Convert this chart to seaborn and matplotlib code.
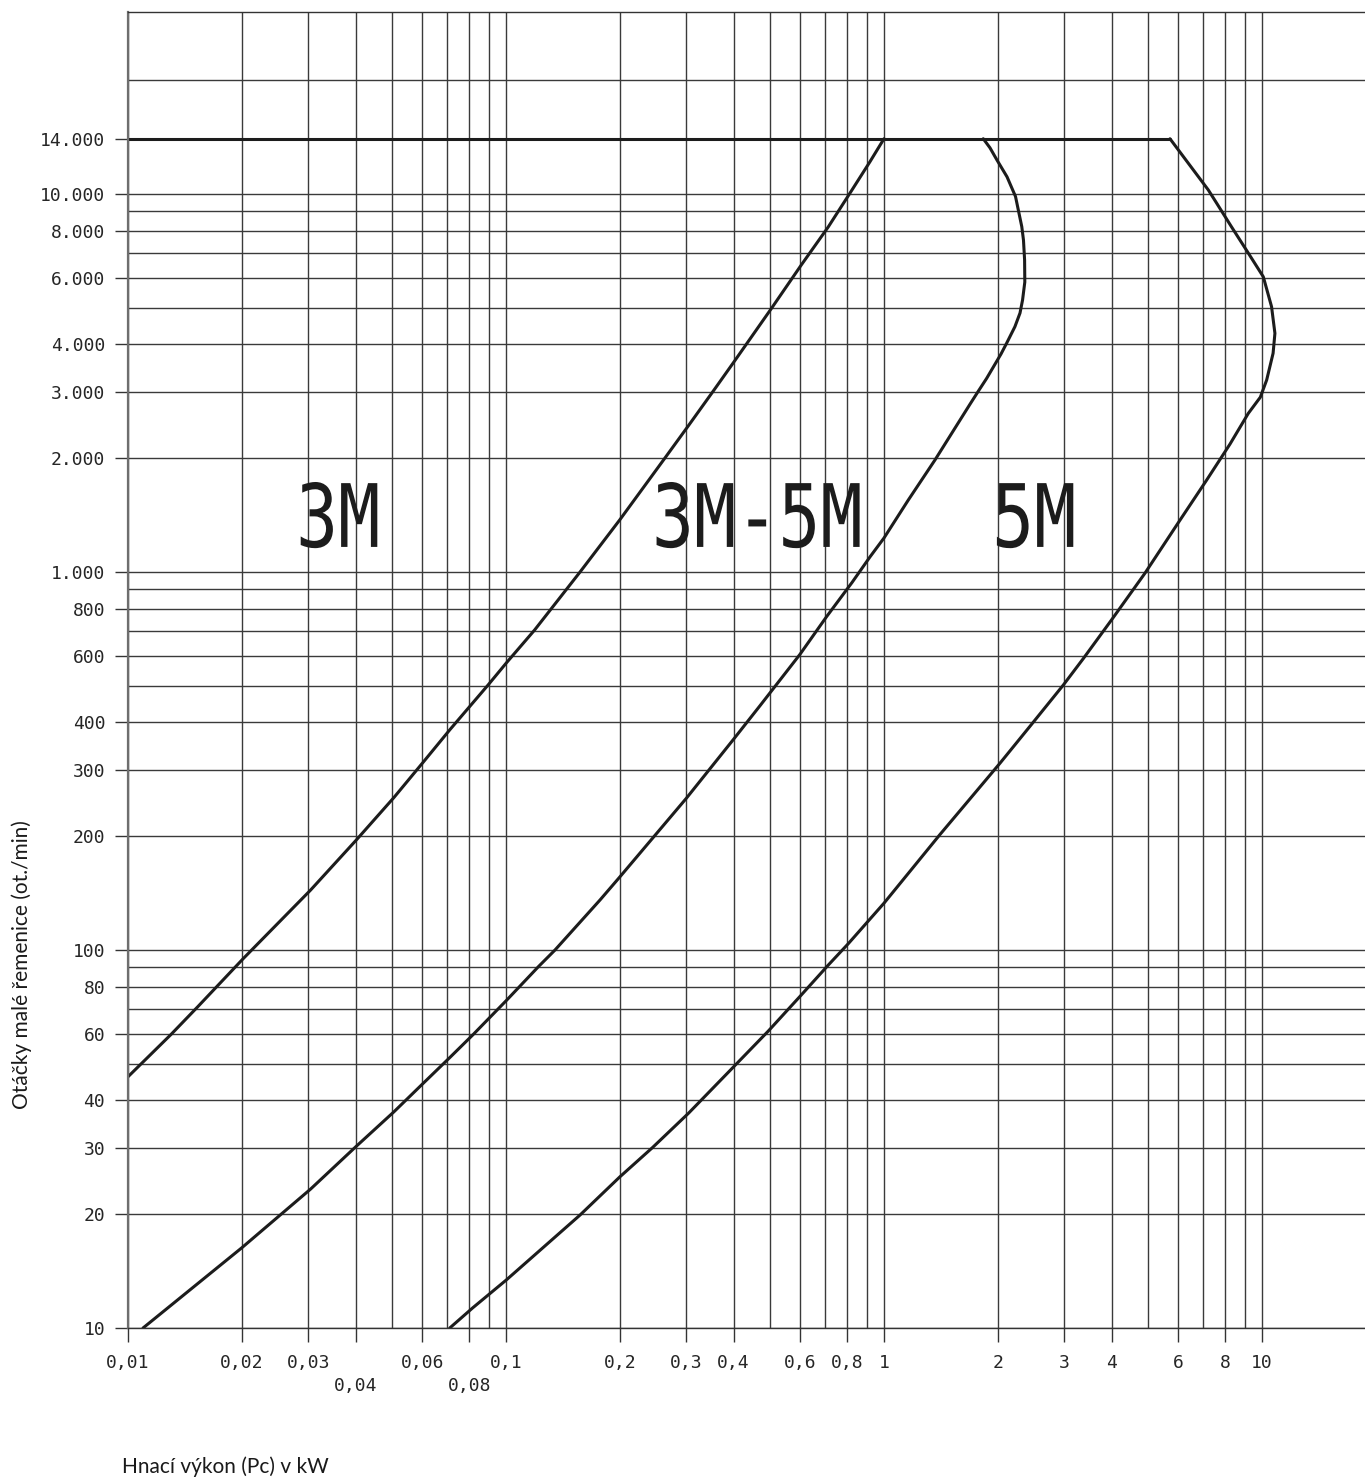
import matplotlib
matplotlib.use("Agg")
import matplotlib.pyplot as plt
from matplotlib.patheffects import AbstractPathEffect
from matplotlib.transforms import Affine2D
from matplotlib.ticker import FixedLocator, FixedFormatter, NullFormatter
import seaborn as sns

# belt curves, power in kW vs. speed of small pulley in rpm (read bottom -> top)
x_3m = [0.01, 0.0130, 0.0153, 0.0202, 0.0304, 0.0401, 0.0505, 0.0604, 0.0711, 0.0896, 0.1004,
        0.119, 0.157, 0.200, 0.261, 0.304, 0.354, 0.401, 0.504, 0.604, 0.712, 0.823, 0.918, 1.0]
y_3m = [46.2, 59.8, 70.8, 95, 144, 195, 253, 314, 383, 502, 576,
        702, 1000, 1374, 1978, 2440, 3017, 3597, 4984, 6486, 8180, 10250, 12170, 14000]

x_3m5m = [0.01096, 0.0200, 0.0304, 0.0401, 0.0505, 0.0604, 0.0711, 0.0818, 0.1002, 0.1219, 0.1348,
          0.1773, 0.200, 0.300, 0.400, 0.470, 0.599, 0.705, 0.823, 0.918, 1.0, 1.159, 1.364,
          1.689, 1.777, 1.868, 2.04, 2.111, 2.22, 2.29, 2.326, 2.358, 2.355, 2.339, 2.315,
          2.228, 2.116, 1.99, 1.907, 1.831]
y_3m5m = [10, 16.3, 23.3, 30.2, 37.3, 44.4, 52, 59.7, 73.5, 90.4, 100,
          135.6, 156, 252, 361, 443, 605, 762, 938, 1096, 1230, 1549, 1978,
          2780, 3010, 3250, 3774, 4030, 4456, 4842, 5243, 5848, 6690, 7551, 8195,
          9850, 11100, 12300, 13250, 14000]

x_5m = [0.0710, 0.0816, 0.1002, 0.157, 0.200, 0.244, 0.304, 0.401, 0.494, 0.604, 0.712, 0.805,
        1.0, 1.406, 2.027, 2.43, 2.98, 3.367, 4.0, 4.9, 6.07, 7.14, 8.23, 9.2, 9.9,
        10.29, 10.7, 10.82, 10.6, 10.08, 9.15, 8.3, 7.59, 7.21, 5.71]
y_5m = [10, 11.3, 13.4, 19.9, 25.1, 30, 37, 49.2, 61, 76, 91.2, 104,
        133, 202, 312, 390, 502, 590, 747, 992, 1372, 1751, 2180, 2628, 2900,
        3221, 3790, 4280, 5035, 6040, 7037, 8195, 9450, 10250, 14000]

# max speed limit line
x_limit = [0.01, 5.71]
y_limit = [14000, 14000]

x_ticks = [0.01, 0.02, 0.03, 0.04, 0.06, 0.08, 0.1, 0.2, 0.3, 0.4, 0.6, 0.8, 1, 2, 3, 4, 6, 8, 10]
x_tick_labels = ["0,01", "0,02", "0,03", "0,04", "0,06", "0,08", "0,1", "0,2", "0,3", "0,4",
                 "0,6", "0,8", "1", "2", "3", "4", "6", "8", "10"]
y_ticks = [10, 20, 30, 40, 60, 80, 100, 200, 300, 400, 600, 800,
           1000, 2000, 3000, 4000, 6000, 8000, 10000, 14000]
y_tick_labels = ["10", "20", "30", "40", "60", "80", "100", "200", "300", "400", "600", "800",
                 "1.000", "2.000", "3.000", "4.000", "6.000", "8.000", "10.000", "14.000"]

x_grid = [m * 10.0 ** e for e in (-2, -1, 0) for m in range(1, 10)] + [10]
y_grid = [m * 10.0 ** e for e in (1, 2, 3) for m in range(1, 10)] + [10000, 20000]

zones = ["3M", "3M-5M", "5M"]
zone_left = [0.02783, 0.2432, 1.931]


class Squeeze(AbstractPathEffect):
    # narrow the glyphs horizontally (drawing-office lettering)
    def __init__(self, sx):
        super().__init__()
        self.sx = sx

    def draw_path(self, renderer, gc, tpath, affine, rgbFace=None):
        renderer.draw_path(gc, tpath, Affine2D().scale(self.sx, 1.0) + affine, rgbFace)


sns.set_style("white")
plt.rcParams["font.family"] = ["DejaVu Sans Mono", "DejaVu Sans"]

fig = plt.figure(figsize=(13.65, 14.79), dpi=100)
ax = fig.add_axes([128 / 1365, 151 / 1479, 1237 / 1365, 1316 / 1479])
ax.set_xscale("log")
ax.set_yscale("log")

line_kw = dict(color="#1c1c1c", linewidth=2.2, sort=False, estimator=None, ax=ax)
sns.lineplot(x=x_3m, y=y_3m, **line_kw)
sns.lineplot(x=x_3m5m, y=y_3m5m, **line_kw)
sns.lineplot(x=x_5m, y=y_5m, **line_kw)
sns.lineplot(x=x_limit, y=y_limit, **line_kw)

ax.set_xlim(0.01, 18.73)
ax.set_ylim(10, 30300)

ax.xaxis.set_major_locator(FixedLocator(x_ticks))
ax.xaxis.set_major_formatter(FixedFormatter(x_tick_labels))
ax.xaxis.set_minor_locator(FixedLocator(x_grid))
ax.xaxis.set_minor_formatter(NullFormatter())
ax.yaxis.set_major_locator(FixedLocator(y_ticks))
ax.yaxis.set_major_formatter(FixedFormatter(y_tick_labels))
ax.yaxis.set_minor_locator(FixedLocator(y_grid))
ax.yaxis.set_minor_formatter(NullFormatter())
ax.xaxis.remove_overlapping_locs = False
ax.yaxis.remove_overlapping_locs = False

ax.grid(False)
ax.grid(True, which="minor", color="#3a3a3a", linewidth=1.0)

ax.tick_params(which="minor", length=0)
ax.tick_params(axis="x", which="major", length=10, width=1, pad=9, labelsize=13,
               color="#333333", direction="out", bottom=True)
ax.tick_params(axis="y", which="major", length=9.4, width=1, pad=7, labelsize=13,
               color="#333333", direction="out", left=True)

# staggered labels under 0,04 and 0,08
for tick, loc in zip(ax.xaxis.get_major_ticks(), x_ticks):
    if loc in (0.04, 0.08):
        tick.tick1line.set_markersize(26.5)
        tick.set_pad(9 + 16.5)

ax.spines["right"].set_visible(False)
ax.spines["left"].set_color("#6e6e6e")
ax.spines["left"].set_linewidth(1.6)
for s in ("top", "bottom"):
    ax.spines[s].set_color("#333333")
    ax.spines[s].set_linewidth(1.0)

for name, xl in zip(zones, zone_left):
    ax.text(xl, 1165, name, fontsize=63, ha="left", va="baseline", color="#1c1c1c",
            path_effects=[Squeeze(0.8)])

fig.text(122 / 1365, 1 - 1467 / 1479, "Hnací výkon (Pc) v kW", family=["Lato", "DejaVu Sans"],
         fontsize=15, ha="left", va="center", color="#1a1a1a")
fig.text(22 / 1365, 1 - 965 / 1479, "Otáčky malé řemenice (ot./min)", family=["Lato", "DejaVu Sans"],
         fontsize=15, rotation=90, ha="center", va="center", color="#1a1a1a")

fig.savefig("out.png", dpi=100)
plt.close(fig)
